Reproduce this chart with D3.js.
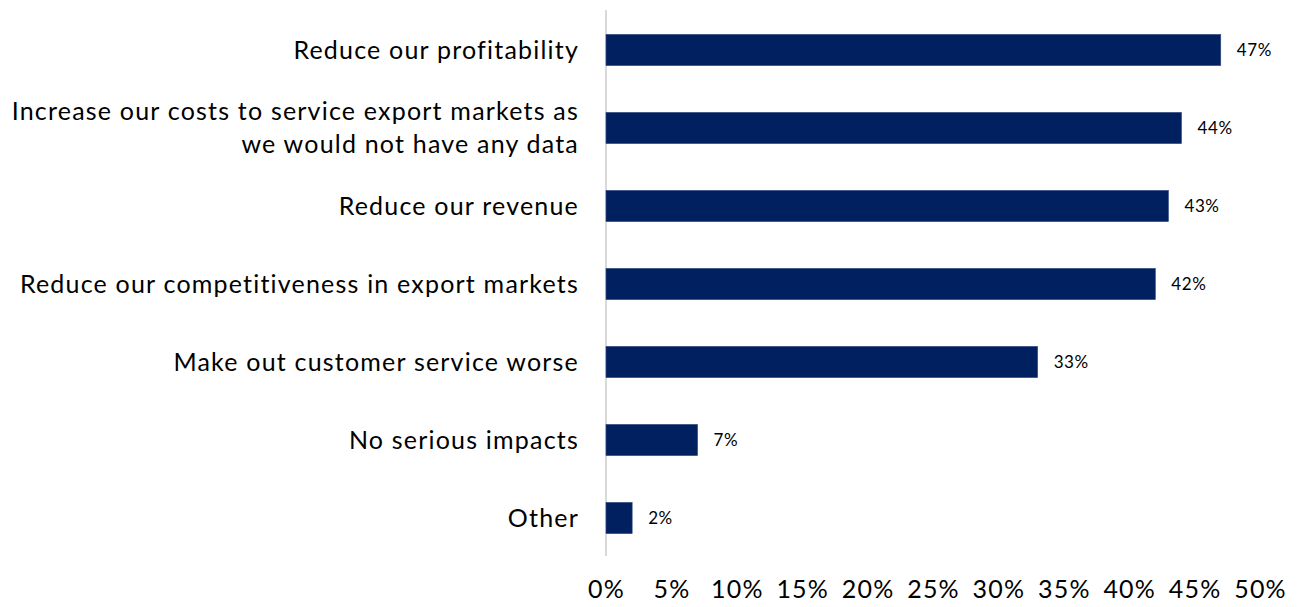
<!DOCTYPE html>
<html>
<head>
<meta charset="utf-8">
<script src="https://cdn.jsdelivr.net/npm/d3@7"></script>
<style>
  html, body { margin: 0; padding: 0; background: #fff; }
  svg { display: block; }
  text { font-family: "Lato", "Open Sans", sans-serif; fill: #000; }
</style>
</head>
<body>
<svg id="chart" width="1300" height="607"></svg>
<script>
// Survey responses: expected impact (share of respondents)
const categories = [
  "Reduce our profitability",
  "Increase our costs to service export markets as|we would not have any data",
  "Reduce our revenue",
  "Reduce our competitiveness in export markets",
  "Make out customer service worse",
  "No serious impacts",
  "Other"
];
const values = [47, 44, 43, 42, 33, 7, 2];
const tickValues = [0, 5, 10, 15, 20, 25, 30, 35, 40, 45, 50];

const svg = d3.select("#chart");

const x = d3.scaleLinear().domain([0, 50]).range([606, 1260]);
const y = d3.scaleBand()
  .domain(categories)
  .range([11, 557])
  .paddingInner(0.6)
  .paddingOuter(0.3);

// vertical baseline
svg.append("line")
  .attr("x1", x(0)).attr("x2", x(0))
  .attr("y1", 10).attr("y2", 556)
  .attr("stroke", "#d9d9d9")
  .attr("stroke-width", 2);

// bars
svg.selectAll("rect.bar")
  .data(categories)
  .join("rect")
  .attr("class", "bar")
  .attr("x", x(0))
  .attr("y", d => y(d))
  .attr("width", (d, i) => x(values[i]) - x(0))
  .attr("height", y.bandwidth())
  .attr("fill", "#00205f")
  .attr("stroke", "#2f4a80")
  .attr("stroke-width", 0.6);

// value labels
svg.selectAll("text.val")
  .data(categories)
  .join("text")
  .attr("class", "val")
  .attr("x", (d, i) => x(values[i]) + 16)
  .attr("y", d => y(d) + y.bandwidth() / 2)
  .attr("dy", "0.36em")
  .attr("font-size", 17)
  .attr("letter-spacing", 0.6)
  .text((d, i) => values[i] + "%");

// category labels (right aligned, wrapped where marked)
const catLabels = svg.selectAll("text.cat")
  .data(categories)
  .join("text")
  .attr("class", "cat")
  .attr("text-anchor", "end")
  .attr("font-size", 25)
  .attr("letter-spacing", 1.2);

catLabels.each(function(d) {
  const lines = d.split("|");
  const cy = y(d) + y.bandwidth() / 2;
  const lh = 33;
  const t = d3.select(this);
  lines.forEach((ln, k) => {
    t.append("tspan")
      .attr("x", 579)
      .attr("y", cy + (k - (lines.length - 1) / 2) * lh)
      .attr("dy", "0.35em")
      .text(ln);
  });
});

// x axis labels
const xAxis = d3.axisBottom(x)
  .tickValues(tickValues)
  .tickSize(0)
  .tickPadding(0)
  .tickFormat(d => d + "%");

const gx = svg.append("g")
  .attr("transform", "translate(0,578)")
  .call(xAxis);
gx.select(".domain").remove();
gx.selectAll("text")
  .attr("font-size", 25)
  .attr("letter-spacing", 1.2)
  .attr("font-family", "Lato, 'Open Sans', sans-serif")
  .attr("fill", "#000")
  .attr("dy", "0.78em");
</script>
</body>
</html>
